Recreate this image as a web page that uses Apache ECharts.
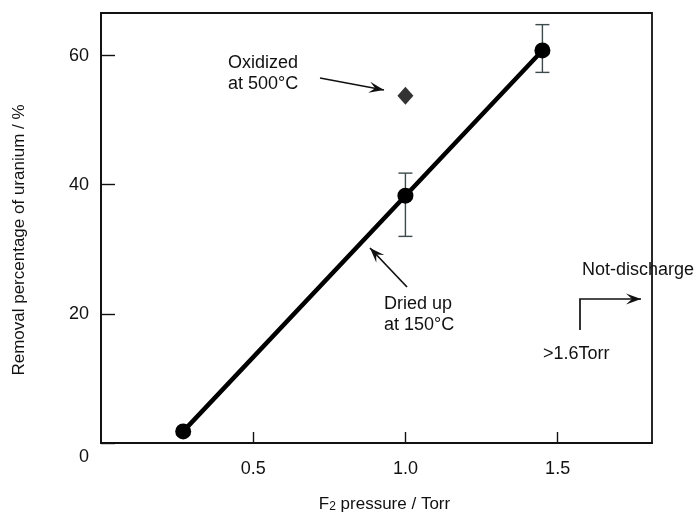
<!DOCTYPE html>
<html>
<head>
<meta charset="utf-8">
<script src="https://cdn.jsdelivr.net/npm/echarts@6/dist/echarts.min.js"></script>
<style>html,body{margin:0;padding:0;background:#fff}#c{width:699px;height:518px}</style>
</head>
<body>
<div id="c"></div>
<script>
// Data
const pressure = [0.27, 1.0, 1.45];          // F2 pressure / Torr
const removal = [1.8, 38.3, 60.8];           // removal percentage / %
const errX = [1.0, 1.45];
const errLow = [32.0, 57.4];
const errHigh = [41.8, 64.8];
const oxidizedX = [1.0];
const oxidizedY = [53.8];
const xTicks = [0, 0.5, 1.0, 1.5];
const yTicks = [0, 20, 40, 60];

const FONT = 'Liberation Sans, Arial, Helvetica, sans-serif';
const INK = '#111';

const chart = echarts.init(document.getElementById('c'), null, {renderer: 'canvas'});

function arrowHead(tip, from, len, half) {
  const dx = tip[0] - from[0], dy = tip[1] - from[1];
  const d = Math.hypot(dx, dy);
  const ux = dx / d, uy = dy / d, px = -uy, py = ux;
  const bx = tip[0] - ux * len, by = tip[1] - uy * len;
  const nx = tip[0] - ux * len * 0.6, ny = tip[1] - uy * len * 0.6;
  return {
    type: 'polygon',
    shape: {points: [tip, [bx + px * half, by + py * half], [nx, ny], [bx - px * half, by - py * half]]},
    style: {fill: INK}
  };
}
function arrow(points) {
  const n = points.length;
  return [
    {type: 'polyline', shape: {points: points}, style: {stroke: INK, lineWidth: 1.7, fill: null}},
    arrowHead(points[n - 1], points[n - 2], 15, 5.5)
  ];
}
function txt(x, y, s, align) {
  return {type: 'text', x: x, y: y, style: {text: s, font: '18px ' + FONT, fill: INK, textAlign: align || 'left', textVerticalAlign: 'middle'}};
}

const option = {
  animation: false,
  backgroundColor: '#fff',
  grid: {left: 101, right: 47, top: 13, bottom: 72, show: true, borderColor: INK, borderWidth: 1.8, backgroundColor: 'transparent'},
  xAxis: {
    type: 'value', min: 0, max: 1.81, interval: 0.5,
    axisLine: {show: true, lineStyle: {color: INK, width: 1.8}},
    axisTick: {show: true, inside: true, length: 11, lineStyle: {color: INK, width: 1.4}},
    splitLine: {show: false},
    axisLabel: {
      showMaxLabel: false, showMinLabel: false, margin: 17, color: INK,
      fontFamily: FONT, fontSize: 18,
      formatter: v => (v === 0 ? '' : v.toFixed(1))
    },
    name: '{a|F}{s|2}{a| pressure / Torr}', nameLocation: 'middle', nameGap: 52,
    nameTextStyle: {
      padding: [0, 0, 0, 16],
      rich: {a: {fontFamily: FONT, fontSize: 17, color: INK}, s: {fontFamily: FONT, fontSize: 12, color: INK, padding: [6, 0, 0, 0]}}
    }
  },
  yAxis: {
    type: 'value', min: 0, max: 66.6, interval: 20,
    axisLine: {show: true, lineStyle: {color: INK, width: 1.8}},
    axisTick: {show: true, inside: true, length: 14, lineStyle: {color: INK, width: 1.4}},
    splitLine: {show: false},
    axisLabel: {
      showMaxLabel: false, margin: 12, color: INK, fontFamily: FONT, fontSize: 18,
      formatter: v => (v === 0 ? '{z|0}' : String(v)),
      rich: {z: {fontFamily: FONT, fontSize: 18, color: INK, padding: [28, 0, 0, 0]}}
    },
    name: 'Removal percentage of uranium / %', nameLocation: 'middle', nameGap: 73,
    nameTextStyle: {fontFamily: FONT, fontSize: 17, color: INK, padding: [0, 0, 0, -24]}
  },
  series: [
    {
      type: 'custom',
      data: errX.map((x, i) => [x, errLow[i], errHigh[i]]),
      renderItem: function (params, api) {
        const x = api.value(0);
        const lo = api.coord([x, api.value(1)]);
        const hi = api.coord([x, api.value(2)]);
        const w = 7;
        const st = {stroke: '#3c4a4c', lineWidth: 1.4};
        return {type: 'group', children: [
          {type: 'line', shape: {x1: lo[0], y1: lo[1], x2: hi[0], y2: hi[1]}, style: st},
          {type: 'line', shape: {x1: lo[0] - w, y1: lo[1], x2: lo[0] + w, y2: lo[1]}, style: st},
          {type: 'line', shape: {x1: hi[0] - w, y1: hi[1], x2: hi[0] + w, y2: hi[1]}, style: st}
        ]};
      },
      z: 1
    },
    {
      type: 'line',
      data: pressure.map((x, i) => [x, removal[i]]),
      symbol: 'circle', symbolSize: 16,
      lineStyle: {color: '#000', width: 4.5},
      itemStyle: {color: '#000'},
      z: 3
    },
    {
      type: 'scatter',
      data: oxidizedX.map((x, i) => [x, oxidizedY[i]]),
      symbol: 'diamond', symbolSize: [16, 18],
      itemStyle: {color: '#000'},
      z: 3
    }
  ],
  graphic: [
    txt(228, 63, 'Oxidized'),
    txt(228, 84, 'at 500°C'),
    ...arrow([[320, 78], [384, 90]]),
    txt(384, 304, 'Dried up'),
    txt(384, 325, 'at 150°C'),
    ...arrow([[407, 287], [370, 248]]),
    txt(582, 270, 'Not-discharge'),
    ...arrow([[580, 330], [580, 299], [641, 299]]),
    txt(543, 354, '>1.6Torr')
  ]
};
chart.setOption(option);
</script>
</body>
</html>
